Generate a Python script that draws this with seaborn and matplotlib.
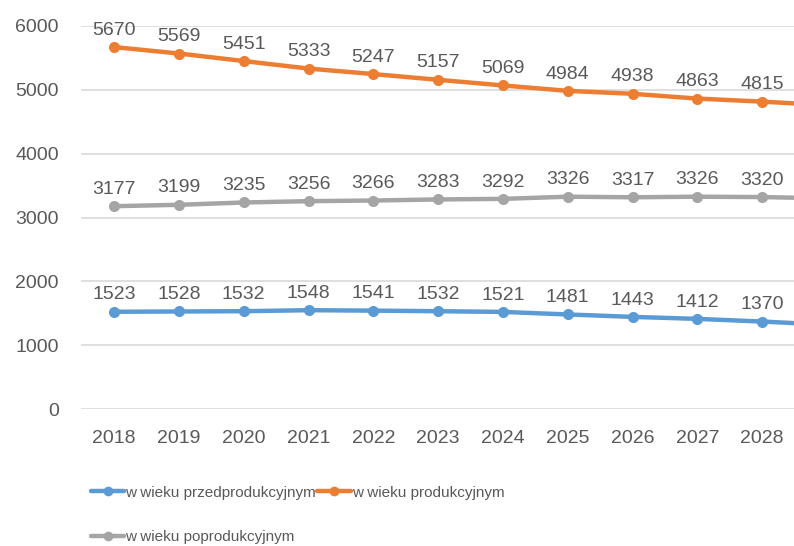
import matplotlib
matplotlib.use('Agg')
import matplotlib.pyplot as plt
import seaborn as sns
import pandas as pd

years = [2018, 2019, 2020, 2021, 2022, 2023, 2024, 2025, 2026, 2027, 2028, 2029]
przed = [1523, 1528, 1532, 1548, 1541, 1532, 1521, 1481, 1443, 1412, 1370, 1320]
prod = [5670, 5569, 5451, 5333, 5247, 5157, 5069, 4984, 4938, 4863, 4815, 4760]
poprod = [3177, 3199, 3235, 3256, 3266, 3283, 3292, 3326, 3317, 3326, 3320, 3300]
series_names = ['w wieku przedprodukcyjnym', 'w wieku produkcyjnym', 'w wieku poprodukcyjnym']
series_values = [przed, prod, poprod]
colors = ['#5B9BD5', '#ED7D31', '#A5A5A5']

df = pd.DataFrame({
    'Rok': years * 3,
    'Liczba': przed + prod + poprod,
    'Grupa': [n for n in series_names for _ in years],
})

sns.set_style("white")
plt.rcParams['font.family'] = ['Liberation Sans', 'DejaVu Sans']
text_color = '#595959'

fig = plt.figure(figsize=(7.94, 5.46), dpi=100)
ax = fig.add_axes([81 / 794, 137 / 546, 713 / 794, 383 / 546])

sns.lineplot(data=df, x='Rok', y='Liczba', hue='Grupa', palette=dict(zip(series_names, colors)),
             marker='o', markersize=8, markeredgewidth=0, linewidth=3.2, ax=ax, legend=False)

# data labels
for vals in series_values:
    for yr, v in zip(years[:-1], vals[:-1]):
        ax.annotate(str(v), (yr, v), xytext=(0, 6), textcoords='offset points',
                    ha='center', va='bottom', fontsize=14, color=text_color, clip_on=False)

ax.set_xlim(2017.49, 2028.49)
ax.set_ylim(0, 6000)
ax.set_xticks(years[:-1])
ax.set_yticks(range(0, 6001, 1000))
ax.yaxis.grid(True, color='#D9D9D9', linewidth=1.2)
ax.xaxis.grid(False)
for s in ax.spines.values():
    s.set_visible(False)
ax.tick_params(axis='y', length=0, pad=16, labelsize=14, labelcolor=text_color)
ax.tick_params(axis='x', length=0, pad=15, labelsize=14, labelcolor=text_color)
ax.set_xlabel('')
ax.set_ylabel('')

handles = [plt.Line2D([], [], color=c, marker='o', markersize=7, markeredgewidth=0, linewidth=3.2)
           for c in colors]
order = [0, 2, 1]
fig.legend([handles[i] for i in order], [series_names[i] for i in order],
           loc='upper left', bbox_to_anchor=(77 / 794, 1 - 472 / 546), ncol=2, frameon=False,
           fontsize=11, handlelength=2.2, handletextpad=0.05, columnspacing=0.1,
           labelspacing=2.0, labelcolor=text_color)

fig.savefig('out.png', dpi=100)
